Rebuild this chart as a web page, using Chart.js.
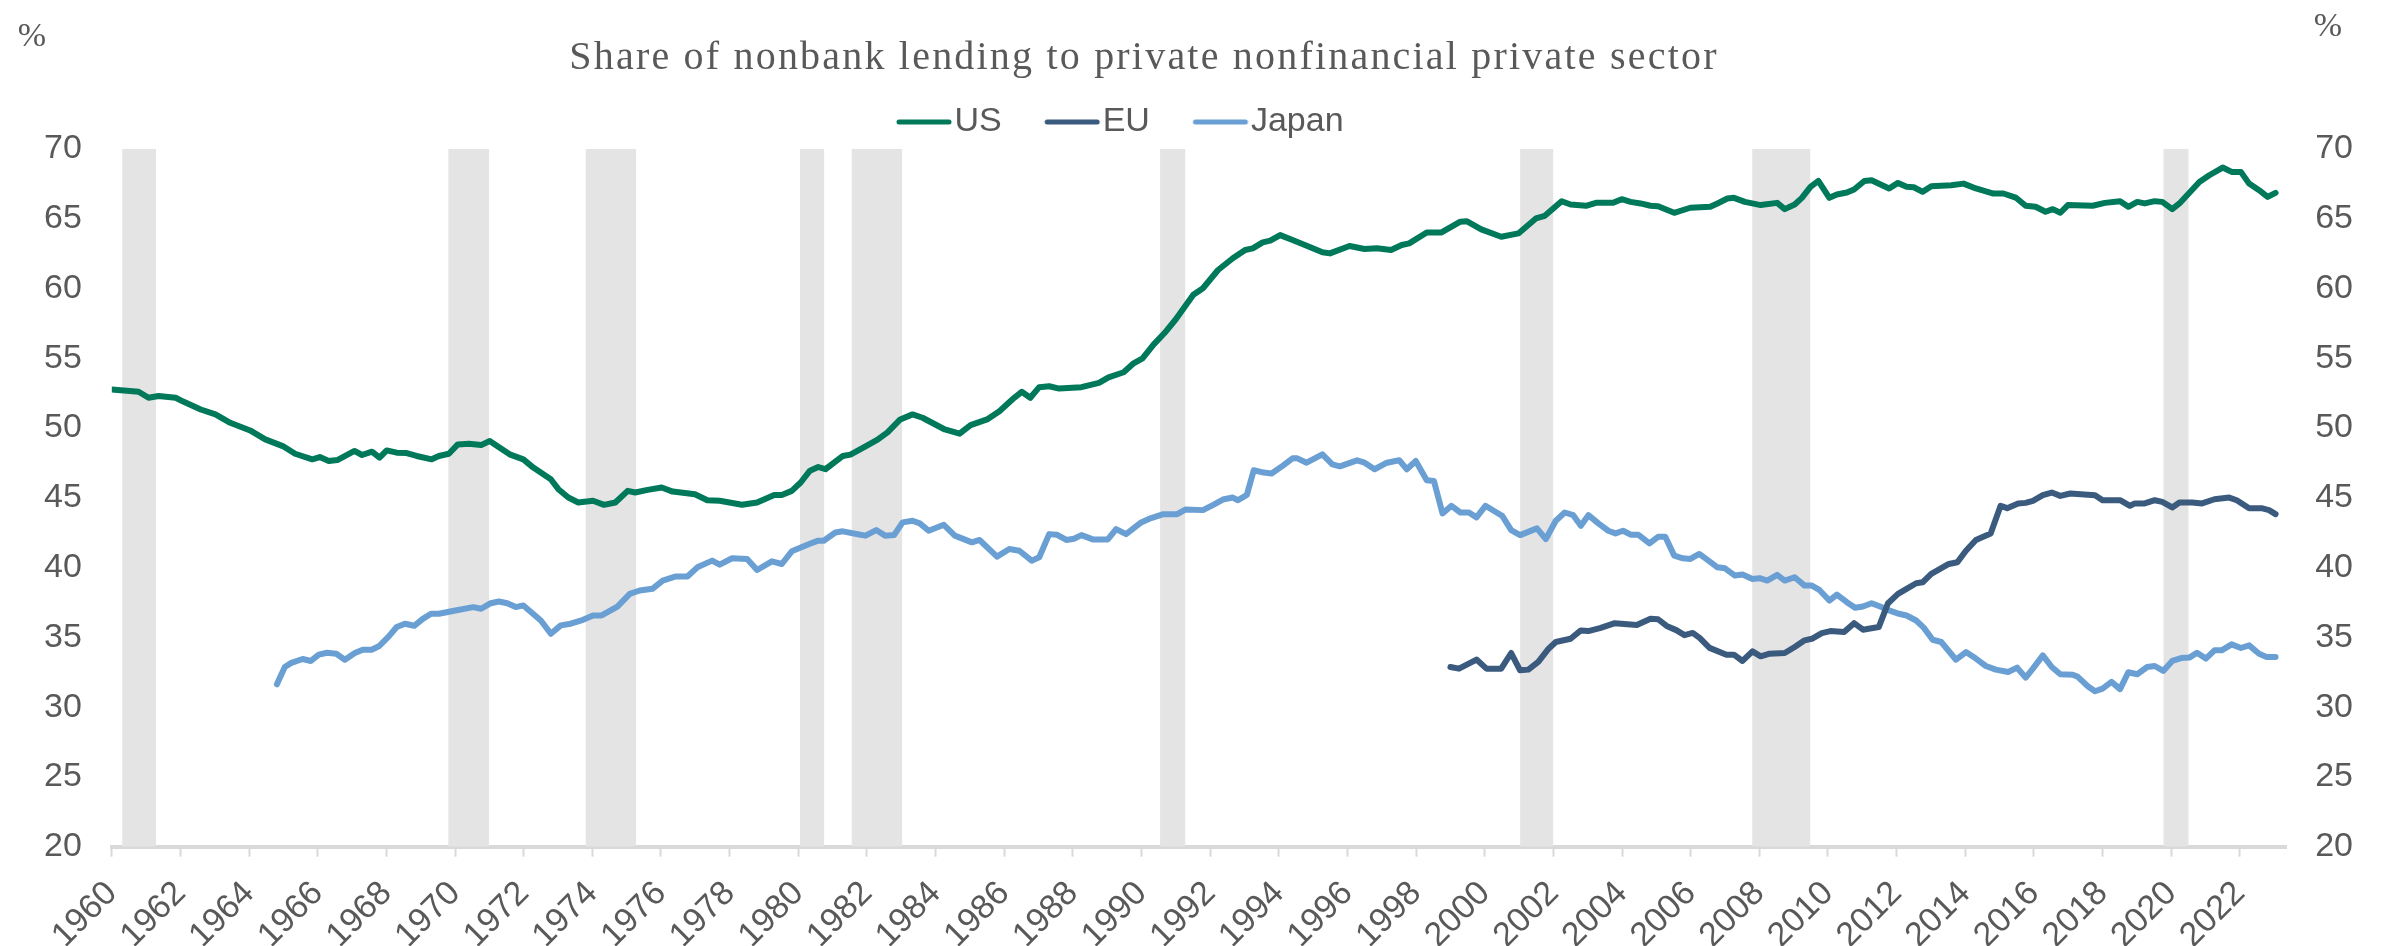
<!DOCTYPE html>
<html>
<head>
<meta charset="utf-8">
<script src="https://cdn.jsdelivr.net/npm/chart.js@4.4.1/dist/chart.umd.min.js"></script>
<style>
  html, body { margin: 0; padding: 0; background: #fff; }
  #wrap { width: 2386px; height: 946px; }
</style>
</head>
<body>
<div id="wrap"><canvas id="myChart1"></canvas></div>
<script>
var usYears = [1960.00,1960.78,1961.07,1961.36,1961.86,1962.08,1962.59,1963.02,1963.45,1964.03,1964.47,1964.98,1965.34,1965.84,1966.06,1966.32,1966.57,1967.07,1967.29,1967.58,1967.80,1968.01,1968.30,1968.59,1968.88,1969.32,1969.53,1969.82,1970.08,1970.40,1970.76,1971.01,1971.27,1971.59,1971.99,1972.28,1972.79,1973.01,1973.30,1973.59,1974.02,1974.34,1974.67,1975.03,1975.25,1975.61,1976.02,1976.34,1976.99,1977.35,1977.71,1978.36,1978.80,1979.30,1979.52,1979.81,1980.07,1980.34,1980.58,1980.79,1981.30,1981.52,1981.96,1982.31,1982.60,1982.97,1983.33,1983.62,1984.27,1984.70,1985.02,1985.50,1985.86,1986.29,1986.51,1986.76,1987.02,1987.31,1987.60,1988.25,1988.76,1989.04,1989.48,1989.77,1990.03,1990.35,1990.67,1991.00,1991.51,1991.79,1992.23,1992.66,1993.02,1993.24,1993.53,1993.75,1994.04,1994.40,1994.83,1995.27,1995.49,1996.06,1996.50,1996.86,1997.27,1997.58,1997.80,1998.31,1998.74,1999.29,1999.47,1999.90,2000.48,2000.98,2001.49,2001.75,2002.24,2002.50,2002.95,2003.24,2003.74,2003.99,2004.25,2004.54,2004.83,2005.05,2005.52,2005.99,2006.57,2006.78,2007.07,2007.26,2007.58,2008.04,2008.52,2008.74,2009.03,2009.24,2009.49,2009.72,2010.04,2010.26,2010.55,2010.76,2011.06,2011.27,2011.78,2012.04,2012.29,2012.50,2012.76,2013.01,2013.59,2013.95,2014.31,2014.82,2015.11,2015.47,2015.76,2016.05,2016.34,2016.55,2016.77,2016.99,2017.71,2018.07,2018.51,2018.75,2019.01,2019.23,2019.52,2019.74,2020.03,2020.24,2020.82,2021.11,2021.50,2021.76,2022.03,2022.27,2022.56,2022.81,2023.04];
var usValues = [52.76,52.6,52.17,52.3,52.17,51.9,51.33,50.98,50.38,49.83,49.19,48.71,48.16,47.76,47.92,47.64,47.71,48.36,48.07,48.31,47.88,48.4,48.24,48.21,48.0,47.76,48.0,48.16,48.83,48.88,48.78,49.07,48.64,48.12,47.76,47.17,46.33,45.62,45.02,44.67,44.79,44.5,44.67,45.5,45.38,45.57,45.74,45.45,45.26,44.83,44.79,44.5,44.67,45.21,45.21,45.5,46.1,46.95,47.21,47.05,48.0,48.1,48.69,49.17,49.69,50.62,50.98,50.74,49.9,49.6,50.21,50.62,51.21,52.17,52.6,52.17,52.93,53.0,52.83,52.93,53.24,53.64,54.0,54.64,55.0,55.98,56.81,57.8,59.55,60.02,61.33,62.17,62.76,62.88,63.31,63.43,63.83,63.48,63.05,62.6,62.52,63.05,62.83,62.88,62.76,63.12,63.24,64.02,64.02,64.79,64.83,64.24,63.71,63.95,65.02,65.21,66.26,66.02,65.93,66.14,66.14,66.4,66.21,66.1,65.93,65.9,65.43,65.79,65.86,66.1,66.45,66.5,66.21,65.98,66.14,65.69,66.02,66.5,67.29,67.71,66.5,66.74,66.88,67.1,67.71,67.76,67.17,67.57,67.29,67.26,66.93,67.33,67.4,67.52,67.17,66.81,66.81,66.52,65.93,65.86,65.5,65.69,65.43,65.98,65.93,66.14,66.26,65.86,66.21,66.1,66.26,66.21,65.69,66.1,67.64,68.12,68.67,68.36,68.36,67.52,67.05,66.57,66.86];

var euYears = [1999.00,1999.25,1999.76,2000.05,2000.48,2000.77,2001.03,2001.27,2001.56,2001.86,2002.07,2002.50,2002.80,2003.02,2003.38,2003.79,2004.43,2004.83,2005.05,2005.30,2005.58,2005.82,2006.06,2006.26,2006.55,2007.04,2007.26,2007.51,2007.80,2008.04,2008.30,2008.74,2009.03,2009.32,2009.53,2009.82,2010.07,2010.47,2010.76,2011.02,2011.48,2011.75,2012.04,2012.29,2012.57,2012.76,2013.01,2013.52,2013.77,2014.02,2014.31,2014.74,2015.03,2015.22,2015.54,2015.76,2015.97,2016.26,2016.52,2016.77,2017.06,2017.78,2018.00,2018.51,2018.80,2018.94,2019.23,2019.52,2019.74,2020.03,2020.24,2020.61,2020.90,2021.26,2021.69,2021.91,2022.27,2022.63,2022.85,2023.04];
var euValues = [32.88,32.76,33.41,32.76,32.76,33.88,32.64,32.69,33.24,34.19,34.67,34.9,35.5,35.45,35.68,36.02,35.88,36.33,36.3,35.82,35.52,35.16,35.32,34.96,34.25,33.76,33.76,33.31,34.0,33.64,33.83,33.88,34.31,34.79,34.9,35.31,35.45,35.38,36.02,35.55,35.74,37.45,38.12,38.48,38.88,38.95,39.55,40.26,40.38,41.21,41.98,42.45,44.43,44.26,44.6,44.64,44.79,45.19,45.38,45.14,45.31,45.19,44.83,44.83,44.43,44.6,44.6,44.83,44.71,44.31,44.67,44.67,44.6,44.9,45.02,44.83,44.26,44.26,44.12,43.83];

var jpYears = [1964.81,1965.04,1965.23,1965.56,1965.80,1966.03,1966.27,1966.54,1966.79,1967.08,1967.31,1967.57,1967.78,1968.07,1968.30,1968.54,1968.81,1969.06,1969.30,1969.53,1970.01,1970.53,1970.76,1971.04,1971.28,1971.52,1971.77,1971.99,1972.50,1972.79,1973.08,1973.37,1973.73,1974.02,1974.27,1974.73,1975.09,1975.38,1975.75,1976.05,1976.41,1976.77,1977.06,1977.49,1977.71,1978.07,1978.51,1978.80,1979.23,1979.52,1979.81,1980.32,1980.58,1980.74,1981.08,1981.30,1981.81,1981.96,1982.27,1982.53,1982.79,1983.04,1983.33,1983.54,1983.80,1984.24,1984.56,1985.06,1985.28,1985.79,1986.15,1986.44,1986.80,1987.02,1987.31,1987.53,1987.81,1988.03,1988.25,1988.58,1989.02,1989.26,1989.55,1989.99,1990.28,1990.64,1991.04,1991.29,1991.79,1992.09,1992.37,1992.66,1992.81,1993.07,1993.27,1993.56,1993.79,1994.11,1994.40,1994.54,1994.81,1995.27,1995.56,1995.78,1996.28,1996.50,1996.79,1997.15,1997.51,1997.73,1997.99,1998.31,1998.52,1998.77,1999.03,1999.29,1999.54,1999.76,2000.02,2000.31,2000.51,2000.77,2001.03,2001.52,2001.78,2002.07,2002.33,2002.58,2002.80,2003.02,2003.31,2003.60,2003.81,2004.03,2004.25,2004.47,2004.80,2005.05,2005.26,2005.52,2005.77,2005.99,2006.25,2006.49,2006.78,2007.00,2007.29,2007.51,2007.80,2008.01,2008.23,2008.52,2008.74,2009.03,2009.32,2009.53,2009.75,2010.04,2010.26,2010.55,2010.79,2011.02,2011.27,2011.52,2011.78,2012.07,2012.29,2012.57,2012.79,2013.05,2013.30,2013.73,2014.02,2014.31,2014.60,2014.89,2015.25,2015.51,2015.76,2015.97,2016.26,2016.52,2016.77,2017.13,2017.28,2017.57,2017.78,2018.00,2018.26,2018.51,2018.75,2019.01,2019.30,2019.52,2019.77,2020.03,2020.29,2020.53,2020.75,2021.01,2021.26,2021.47,2021.76,2022.03,2022.27,2022.56,2022.78,2023.04];
var jpValues = [31.64,32.88,33.17,33.45,33.31,33.76,33.9,33.83,33.4,33.88,34.12,34.12,34.36,35.07,35.74,35.98,35.83,36.33,36.69,36.69,36.93,37.17,37.05,37.45,37.57,37.45,37.17,37.29,36.21,35.26,35.86,35.98,36.26,36.57,36.57,37.21,38.12,38.36,38.48,39.07,39.36,39.36,40.02,40.5,40.21,40.67,40.62,39.83,40.45,40.26,41.17,41.69,41.93,41.93,42.52,42.6,42.36,42.29,42.69,42.29,42.33,43.24,43.36,43.17,42.64,43.07,42.29,41.81,41.98,40.79,41.33,41.21,40.5,40.74,42.4,42.36,41.98,42.07,42.33,42.02,42.02,42.76,42.4,43.24,43.55,43.83,43.83,44.17,44.12,44.5,44.88,45.02,44.83,45.21,46.98,46.81,46.74,47.29,47.83,47.83,47.52,48.12,47.4,47.26,47.69,47.52,47.05,47.52,47.69,47.05,47.64,46.26,46.21,43.88,44.43,43.95,43.95,43.6,44.43,44.0,43.71,42.69,42.33,42.81,42.05,43.36,43.95,43.76,43.0,43.76,43.17,42.64,42.45,42.64,42.36,42.36,41.74,42.21,42.21,40.86,40.67,40.62,40.98,40.55,40.02,39.95,39.43,39.5,39.19,39.24,39.07,39.48,39.07,39.31,38.71,38.71,38.4,37.64,38.07,37.52,37.12,37.21,37.45,37.21,36.93,36.69,36.57,36.21,35.7,34.83,34.67,33.4,33.95,33.48,32.95,32.69,32.52,32.83,32.12,32.76,33.71,32.88,32.36,32.33,32.17,31.5,31.14,31.33,31.81,31.29,32.5,32.36,32.88,32.95,32.6,33.31,33.52,33.55,33.9,33.48,34.07,34.07,34.5,34.24,34.43,33.83,33.6,33.6];

// US recessions (shaded)
var recessionStart = [1960.30,1969.80,1973.80,1980.05,1981.55,1990.54,2001.03,2007.79,2019.77];
var recessionEnd   = [1961.29,1971.00,1975.28,1980.76,1983.03,1991.28,2002.00,2009.49,2020.51];

var yMin = 20;
var yMax = 70;
var xMin = 1960;
var xMax = 2023.35;

var textGray = "#595959";

function toPoints(xs, ys){
  var out = [];
  for(var i=0; i<xs.length; i++){
    out.push({x: xs[i], y: ys[i]});
  }
  return out;
}

function lineSet(label, color, xs, ys){
  return {
    label: label,
    data: toPoints(xs, ys),
    borderColor: color,
    backgroundColor: color,
    borderWidth: 6,
    borderJoinStyle: "round",
    borderCapStyle: "round",
    pointRadius: 0,
    tension: 0,
    fill: false,
    order: 0
  };
}

// legend key: short thick line with round ends, offset so the label sits close to it
function keyImage(color){
  var c = document.createElement("canvas");
  c.width = 110;
  c.height = 8;
  var g = c.getContext("2d");
  g.strokeStyle = color;
  g.lineWidth = 5;
  g.lineCap = "round";
  g.beginPath();
  g.moveTo(37, 4);
  g.lineTo(87, 4);
  g.stroke();
  return c;
}

var datasets = [
  lineSet("US", "#00785a", usYears, usValues),
  lineSet("EU", "#3a5a7e", euYears, euValues),
  lineSet("Japan", "#6a9fd4", jpYears, jpValues)
];

for(var i=0; i<recessionStart.length; i++){
  datasets.push({
    label: "recession",
    data: [{x: recessionStart[i], y: yMax}, {x: recessionEnd[i], y: yMax}],
    fill: "start",
    backgroundColor: "#e4e4e4",
    borderColor: "rgba(0,0,0,0)",
    borderWidth: 0,
    pointRadius: 0,
    order: 10
  });
}

// "%" unit marks above both value axes; title and legend sit a bit left of centre
var extras = {
  id: "extras",
  afterLayout: function(chart){
    var t = chart.titleBlock;
    t.left -= 54;
    t.right -= 54;
    chart.legend.left -= 78;
    chart.legend.right -= 78;
    if(!t._spaced){
      var draw = t.draw;
      t.draw = function(){
        this.ctx.save();
        this.ctx.letterSpacing = "2.2px";
        draw.apply(this, arguments);
        this.ctx.restore();
      };
      t._spaced = true;
    }
  },
  afterDraw: function(chart){
    var c = chart.ctx;
    c.save();
    c.font = '34px "Liberation Serif"';
    c.fillStyle = textGray;
    c.textAlign = "center";
    c.textBaseline = "middle";
    c.fillText("%", chart.scales.y.left + 18, 37);
    c.fillText("%", chart.scales.y2.right - 54, 27);
    c.restore();
  }
};

var valueAxis = function(pos, pad){
  return {
    type: "linear",
    position: pos,
    min: yMin,
    max: yMax,
    ticks: {
      stepSize: 5,
      padding: pad,
      color: textGray,
      font: {family: "Liberation Sans", size: 34}
    },
    grid: {display: false, drawTicks: false},
    border: {display: false}
  };
};

var ctx = document.getElementById("myChart1").getContext("2d");

var options = {
  responsive: true,
  maintainAspectRatio: false,
  animation: false,
  events: [],
  layout: {
    padding: {left: 14, right: 4, top: 30, bottom: -27}
  },
  plugins: {
    title: {
      display: true,
      text: "Share of nonbank lending to private nonfinancial private sector",
      color: textGray,
      font: {family: "Liberation Serif", size: 40, weight: "normal", lineHeight: 0.9},
      padding: {top: 10, bottom: -14}
    },
    legend: {
      display: true,
      position: "top",
      labels: {
        color: textGray,
        font: {family: "Liberation Sans", size: 34},
        usePointStyle: true,
        pointStyleWidth: 41,
        boxHeight: 34,
        padding: 43,
        filter: function(item){ return item.datasetIndex < 3; },
        generateLabels: function(chart){
          var items = Chart.defaults.plugins.legend.labels.generateLabels(chart);
          items.forEach(function(it){
            it.pointStyle = keyImage(it.strokeStyle);
          });
          return items;
        }
      }
    },
    tooltip: {enabled: false}
  },
  scales: {
    x: {
      type: "linear",
      position: "bottom",
      min: xMin,
      max: xMax,
      ticks: {
        stepSize: 2,
        autoSkip: false,
        includeBounds: false,
        minRotation: 45,
        maxRotation: 45,
        padding: 23,
        color: textGray,
        font: {family: "Liberation Sans", size: 34, lineHeight: 0.7},
        callback: function(v){ return String(v); }
      },
      grid: {
        drawOnChartArea: false,
        drawTicks: true,
        tickLength: 10,
        tickColor: "#d9d9d9",
        tickWidth: 2
      },
      border: {display: true, color: "#d9d9d9", width: 4}
    },
    y: valueAxis("left", 30),
    y2: valueAxis("right", 29)
  }
};

var lineChart = new Chart(ctx, {
  type: "line",
  data: {datasets: datasets},
  options: options,
  plugins: [extras]
});
</script>
</body>
</html>
